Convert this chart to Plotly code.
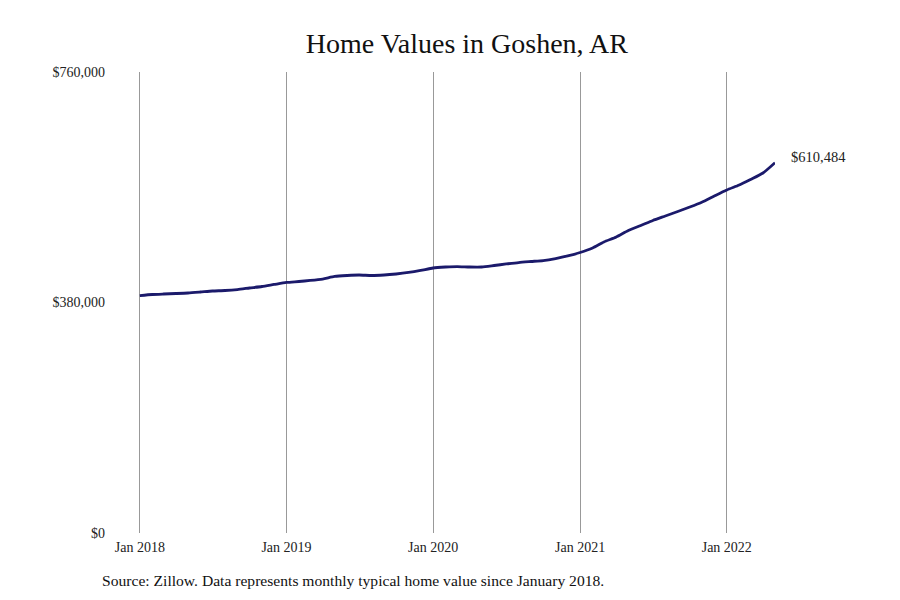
import plotly.graph_objects as go

dates = [f"{y}-{m:02d}-01" for y in range(2018, 2023) for m in range(1, 13)][:53]

values = [
    391500, 393200, 394000, 394800, 395700, 397300, 399000, 399800, 401400, 403900, 406400, 409700,
    413000, 414600, 416300, 418700, 422900, 424500, 425300, 424500, 425300, 427000, 429500, 432800,
    436900, 438500, 439300, 438500, 438500, 441000, 443500, 445900, 447600, 449200, 452500, 456700,
    462400, 469800, 479700, 488000, 498700, 506900, 515200, 522600, 530000, 537400, 545700, 555600,
    565500, 573700, 582800, 593500, 610484,
]

y_ticks = [0, 380000, 760000]
y_labels = ["$0", "$380,000", "$760,000"]
x_ticks = ["2018-01-01", "2019-01-01", "2020-01-01", "2021-01-01", "2022-01-01"]
x_labels = ["Jan 2018", "Jan 2019", "Jan 2020", "Jan 2021", "Jan 2022"]

title = "Home Values in Goshen, AR"
source = "Source: Zillow. Data represents monthly typical home value since January 2018."
end_label = "$610,484"

serif = "Liberation Serif"

fig = go.Figure()
fig.add_trace(go.Scatter(
    x=dates, y=values, mode="lines",
    line=dict(color="#1b1a6b", width=2.8, shape="spline", smoothing=0.6),
    hoverinfo="skip", cliponaxis=False,
))

fig.add_annotation(
    x=dates[-1], y=values[-1], text=end_label, showarrow=False,
    xanchor="left", yanchor="middle", xshift=14, yshift=6,
    font=dict(family=serif, size=14.5, color="#222222"),
)
fig.add_annotation(
    xref="paper", yref="paper", x=-0.058, y=-0.102, text=source, showarrow=False,
    xanchor="left", yanchor="middle",
    font=dict(family=serif, size=15.6, color="#111111"),
)

fig.update_layout(
    width=900, height=600,
    margin=dict(l=129, r=133, t=64, b=75),
    paper_bgcolor="white", plot_bgcolor="white",
    showlegend=False,
    title=dict(text=title, x=0.517, xref="paper", xanchor="center", y=0.942, yanchor="middle",
               font=dict(family=serif, size=28, color="#111111")),
    xaxis=dict(
        range=["2017-12-25", dates[-1]],
        tickvals=x_ticks, ticktext=x_labels,
        showgrid=True, gridcolor="#999999", gridwidth=1,
        zeroline=False, showline=False, ticks="",
        ticklabelstandoff=4,
        tickfont=dict(family=serif, size=14, color="#222222"),
    ),
    yaxis=dict(
        range=[0, 760000],
        tickvals=y_ticks, ticktext=y_labels,
        showgrid=False, zeroline=False, showline=False, ticks="",
        ticklabelstandoff=31,
        tickfont=dict(family=serif, size=14, color="#222222"),
    ),
)

fig.write_html("out.html")
